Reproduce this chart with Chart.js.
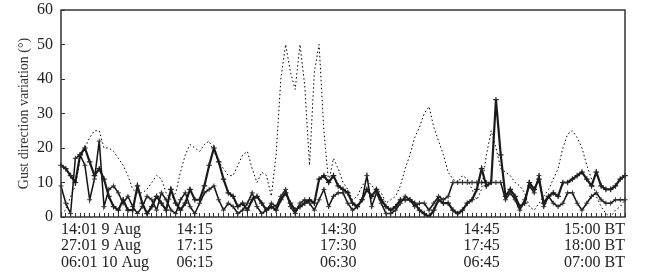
<!DOCTYPE html>
<html>
<head>
<meta charset="utf-8">
<script src="https://cdn.jsdelivr.net/npm/chart.js@4/dist/chart.umd.min.js"></script>
<style>
  html, body { margin: 0; padding: 0; background: #fff; }
  #wrap { width: 651px; height: 280px; }
</style>
</head>
<body>
<div id="wrap"><canvas id="gust"></canvas></div>
<script>
// one sample every 30 s, 14:01 .. 15:00 (119 points)
const dotted = [1, 2, 6, 9, 17, 20, 23, 25, 25, 20, 20, 19, 17, 15, 12, 8, 7, 7, 8, 10,
  12, 11, 7, 5, 7, 13, 18, 21, 20, 19, 21, 22, 19, 16, 14, 12, 12, 15, 18, 19,
  14, 10, 13, 12, 6, 18, 40, 50, 42, 37, 50, 38, 15, 42, 50, 25, 10, 17, 14, 10,
  8, 5, 6, 9, 11, 9, 8, 7, 4, 5, 6, 9, 14, 18, 23, 26, 30, 32, 26, 22,
  18, 13, 11, 10, 12, 11, 8, 5, 8, 18, 25, 20, 14, 13, 12, 10, 9, 7, 3, 2,
  4, 6, 8, 11, 14, 20, 24, 25, 23, 20, 15, 11, 6, 3, 1, 0, 2, 3, 5];

const heavy = [15, 14, 12, 10, 18, 20, 16, 12, 14, 11, 6, 3, 2, 5, 2, 2, 9, 4, 1, 3,
  6, 4, 2, 8, 4, 2, 4, 8, 5, 5, 9, 15, 20, 16, 11, 7, 6, 3, 4, 2,
  5, 6, 4, 2, 3, 2, 5, 7, 4, 2, 3, 4, 5, 4, 11, 12, 10, 12, 9, 8,
  7, 4, 3, 5, 8, 6, 8, 5, 3, 2, 3, 5, 5, 5, 4, 2, 1, 0, 2, 5,
  4, 4, 2, 1, 2, 4, 5, 8, 14, 9, 10, 34, 18, 6, 8, 6, 3, 4, 10, 8,
  11, 4, 6, 7, 6, 10, 10, 11, 12, 13, 11, 9, 13, 9, 8, 8, 9, 11, 12];

const thin = [9, 4, 1, 17, 18, 15, 5, 11, 22, 3, 8, 9, 7, 4, 6, 3, 1, 3, 6, 5,
  2, 7, 5, 2, 1, 5, 7, 3, 1, 4, 7, 8, 9, 5, 2, 4, 3, 1, 2, 4,
  7, 3, 1, 2, 4, 3, 6, 8, 3, 1, 4, 5, 4, 2, 5, 8, 3, 6, 7, 7,
  4, 2, 3, 5, 12, 3, 7, 4, 1, 1, 2, 4, 6, 5, 3, 4, 4, 2, 4, 6,
  5, 6, 10, 10, 10, 10, 10, 10, 10, 10, 10, 10, 10, 5, 7, 5, 2, 5, 9, 7,
  12, 3, 6, 4, 3, 4, 7, 7, 4, 2, 4, 6, 7, 5, 4, 4, 5, 5, 5];

const tickIndex = [0, 28, 58, 88, 118];
const tickRow1 = ['14:01 9 Aug', '14:15', '14:30', '14:45', '15:00 BT'];
const tickRow2 = ['27:01 9 Aug', '17:15', '17:30', '17:45', '18:00 BT'];
const tickRow3 = ['06:01 10 Aug', '06:15', '06:30', '06:45', '07:00 BT'];

const yTicks = [0, 10, 20, 30, 40, 50, 60];

// category labels: sample times of the first row
const labels = [];
for (let i = 0; i < dotted.length; i++) {
    const sec = 14 * 3600 + 60 + i * 30;
    const h = Math.floor(sec / 3600), m = Math.floor(sec / 60) % 60, s = sec % 60;
    labels.push(h + ':' + String(m).padStart(2, '0') + ':' + String(s).padStart(2, '0'));
}

const ink = '#222';
const serif = "'Liberation Serif', 'DejaVu Serif', serif";

const frame = {
    id: 'frame',
    afterDatasetsDraw(chart) {
        const { ctx, chartArea: a } = chart;
        ctx.save();
        ctx.strokeStyle = '#333';
        ctx.lineWidth = 1.5;
        ctx.strokeRect(a.left, a.top, a.right - a.left, a.bottom - a.top);
        ctx.restore();
    }
};

new Chart(document.getElementById('gust'), {
    type: 'line',
    data: {
        labels: labels,
        datasets: [
            {
                label: 'dotted',
                data: dotted,
                borderColor: '#000',
                borderWidth: 1,
                borderDash: [1.5, 2.5],
                pointRadius: 0,
                tension: 0
            },
            {
                label: 'heavy',
                data: heavy,
                borderColor: '#1a1a1a',
                borderWidth: 2.2,
                pointStyle: 'cross',
                pointRadius: 2.8,
                pointBorderColor: '#222',
                pointBorderWidth: 1.2,
                tension: 0
            },
            {
                label: 'thin',
                data: thin,
                borderColor: '#111',
                borderWidth: 1.5,
                pointStyle: 'cross',
                pointRadius: 2.5,
                pointBorderColor: '#333',
                pointBorderWidth: 1,
                tension: 0
            }
        ]
    },
    options: {
        responsive: true,
        maintainAspectRatio: false,
        animation: false,
        layout: { padding: { left: 0, right: 26, top: 10, bottom: 0 } },
        plugins: {
            legend: { display: false },
            tooltip: { enabled: false }
        },
        scales: {
            x: {
                type: 'category',
                offset: false,
                border: { display: false },
                grid: {
                    display: true,
                    drawOnChartArea: false,
                    drawTicks: true,
                    tickLength: -4,
                    color: '#333',
                    lineWidth: 1
                },
                ticks: {
                    autoSkip: false,
                    maxRotation: 0,
                    minRotation: 0,
                    align: 'inner',
                    padding: 8,
                    color: ink,
                    font: { family: serif, size: 16, lineHeight: 1.05 },
                    callback: (val, i) => {
                        const k = tickIndex.indexOf(i);
                        return k < 0 ? '' : [tickRow1[k], tickRow2[k], tickRow3[k]];
                    }
                },
                afterFit: s => { s.height = 63; s.paddingLeft = 0; s.paddingRight = 0; }
            },
            y: {
                min: 0,
                max: 60,
                border: { display: false },
                grid: {
                    display: true,
                    drawOnChartArea: false,
                    drawTicks: true,
                    tickLength: -4,
                    color: '#333'
                },
                afterBuildTicks: s => { s.ticks = yTicks.map(v => ({ value: v })); },
                ticks: {
                    padding: 12,
                    color: ink,
                    font: { family: serif, size: 16 }
                },
                title: {
                    display: true,
                    text: 'Gust direction variation (°)',
                    color: '#333',
                    font: { family: serif, size: 14 },
                    padding: { top: 16, bottom: 0 }
                },
                afterFit: s => { s.width = 61; s.paddingTop = 0; s.paddingBottom = 0; }
            }
        }
    },
    plugins: [frame]
});
</script>
</body>
</html>
